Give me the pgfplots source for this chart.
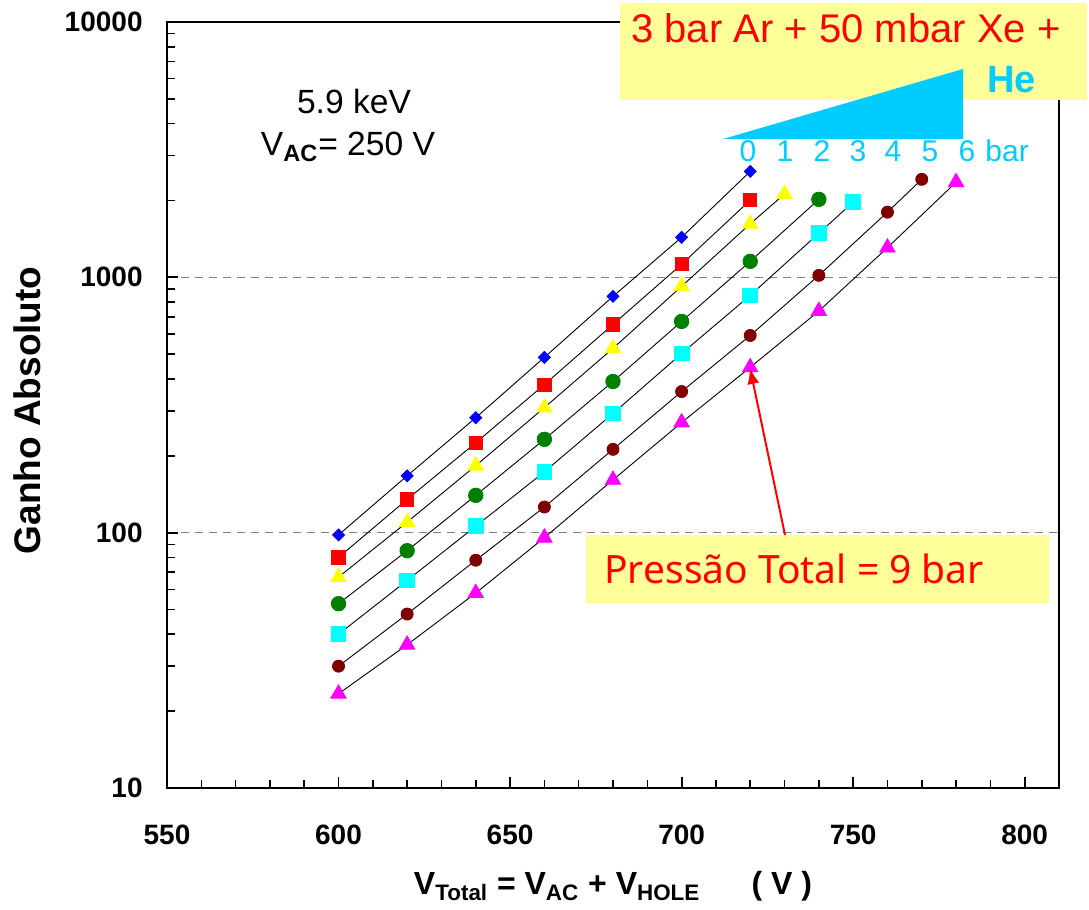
\documentclass[border=0pt]{standalone}
\usepackage{fontspec}
\setmainfont{Liberation Sans}
\newfontfamily\tahoma{Noto Sans}
\usepackage{pgfplots}
\pgfplotsset{compat=1.18}
\usetikzlibrary{arrows.meta}
\definecolor{lightyel}{HTML}{FFFF99}
\definecolor{skyc}{HTML}{00CCFF}
\definecolor{dred}{HTML}{800000}
\definecolor{dgreen}{HTML}{008000}
\definecolor{cblue}{HTML}{0000FF}
\definecolor{cred}{HTML}{FF0000}
\definecolor{cyel}{HTML}{FFFF00}
\definecolor{ccyan}{HTML}{00FFFF}
\definecolor{cmag}{HTML}{FF00FF}
\tikzset{px/.style={x=0.5pt,y=-0.5pt,shift={(-167,-788)}}}
\begin{document}
\begin{tikzpicture}
\begin{axis}[
  width=446pt, height=383pt, scale only axis,
  at={(0,0)}, anchor=south west,
  xmin=550, xmax=810, ymin=10, ymax=10000, ymode=log,
  xtick={550,600,...,800}, xticklabels={550,600,650,700,750,800},
  minor xtick={560,570,...,810},
  ytick={10,100,1000,10000}, yticklabels={10,100,1000,10000},
  minor ytick={20,30,40,50,60,70,80,90,200,300,400,500,600,700,800,900,2000,3000,4000,5000,6000,7000,8000,9000},
  tick pos=left, tick align=inside,
  major tick length=5.5pt, minor tick length=4pt,
  axis line style={line width=1pt, black},
  major tick style={line width=0.9pt, black},
  minor tick style={line width=0.8pt, black},
  ymajorgrids,
  major grid style={gray, line width=0.5pt, dash pattern=on 4pt off 3pt},
  xticklabel style={font=\bfseries\fontsize{14}{14}\selectfont, anchor=base, yshift=-28.5pt},
  yticklabel style={font=\bfseries\fontsize{14}{14}\selectfont, anchor=east, inner sep=0pt, xshift=-12pt},
  xlabel={V\textsubscript{Total} = V\textsubscript{AC} + V\textsubscript{HOLE}\hspace{1.6em}( V )},
  xlabel style={font=\bfseries\fontsize{16}{16}\selectfont, at={(axis description cs:0.5,-0.1397)}, anchor=base},
  ylabel={Ganho Absoluto},
  ylabel style={font=\bfseries\fontsize{18.5}{18.5}\selectfont, at={(axis description cs:-0.157,0.493)}, anchor=center},
  clip=false,
]
% 0 bar He
\addplot[black, line width=0.45pt, mark=square*, mark size=2.1pt, mark options={rotate=45, draw=cblue, fill=cblue}]
  coordinates {(600,98)(620,167)(640,282)(660,486)(680,842)(700,1435)(720,2600)};
% 1 bar
\addplot[black, line width=0.45pt, mark=square*, mark size=3.3pt, mark options={draw=cred, fill=cred}]
  coordinates {(600,80)(620,135)(640,225)(660,380)(680,654)(700,1125)(720,2005)};
% 2 bar
\addplot[black, line width=0.45pt, mark=triangle*, mark size=4.4pt, mark options={draw=cyel, fill=cyel}]
  coordinates {(600,67)(620,110)(640,183)(660,309)(680,527)(700,922)(720,1620)(730,2120)};
% 3 bar
\addplot[black, line width=0.45pt, mark=*, mark size=3.6pt, mark options={draw=dgreen, fill=dgreen}]
  coordinates {(600,52.7)(620,85)(640,140)(660,232)(680,391)(700,672)(720,1155)(740,2020)};
% 4 bar
\addplot[black, line width=0.45pt, mark=square*, mark size=3.7pt, mark options={draw=ccyan, fill=ccyan}]
  coordinates {(600,40)(620,65)(640,106)(660,173)(680,293)(700,503)(720,850)(740,1488)(750,1970)};
% 5 bar
\addplot[black, line width=0.45pt, mark=*, mark size=3pt, mark options={draw=dred, fill=dred}]
  coordinates {(600,30)(620,48)(640,78)(660,126)(680,212)(700,357)(720,592)(740,1018)(760,1800)(770,2420)};
% 6 bar
\addplot[black, line width=0.45pt, mark=triangle*, mark size=4.4pt, mark options={draw=cmag, fill=cmag}]
  coordinates {(600,23.4)(620,36.4)(640,58)(660,95.6)(680,161)(700,270)(720,444)(740,738)(760,1307)(780,2357)};
\end{axis}
\begin{scope}[px]
  % top annotation box
  \fill[lightyel] (620,3) rectangle (1087,100);
  \node[anchor=base west, inner sep=0pt, text=cred, font=\fontsize{20}{20}\selectfont] at (631,43) {3 bar Ar + 50 mbar Xe +};
  \node[anchor=base west, inner sep=0pt, text=skyc, font=\bfseries\fontsize{19}{19}\selectfont] at (987,93) {He};
  \fill[skyc] (723,139) -- (963,69) -- (963,139) -- cycle;
  \foreach \d/\xx in {0/748,1/785,2/822,3/858,4/893,5/930,6/967} {
    \node[anchor=base, inner sep=0pt, text=skyc, font=\fontsize{15}{15}\selectfont] at (\xx,162) {\d};
  }
  \node[anchor=base west, inner sep=0pt, text=skyc, font=\fontsize{15}{15}\selectfont] at (985,162) {bar};
  % conditions
  \node[anchor=base, inner sep=0pt, font=\fontsize{16.8}{16.8}\selectfont] at (354,114) {5.9 keV};
  \node[anchor=base, inner sep=0pt, font=\fontsize{16.8}{16.8}\selectfont] at (348,156) {V\textsubscript{\textbf{AC}}= 250 V};
  % pressure box
  \fill[lightyel] (586,535) rectangle (1049,603);
  \node[anchor=base west, inner sep=0pt, text=cred, font=\tahoma\fontsize{19.5}{19.5}\selectfont] at (604,584) {Pressão Total = 9 bar};
  \draw[cred, line width=1pt, -{Latex[length=8pt,width=6pt]}] (785,535) -- (750,368);
  \useasboundingbox (0,0) rectangle (1089,910);
\end{scope}
\end{tikzpicture}
\end{document}
